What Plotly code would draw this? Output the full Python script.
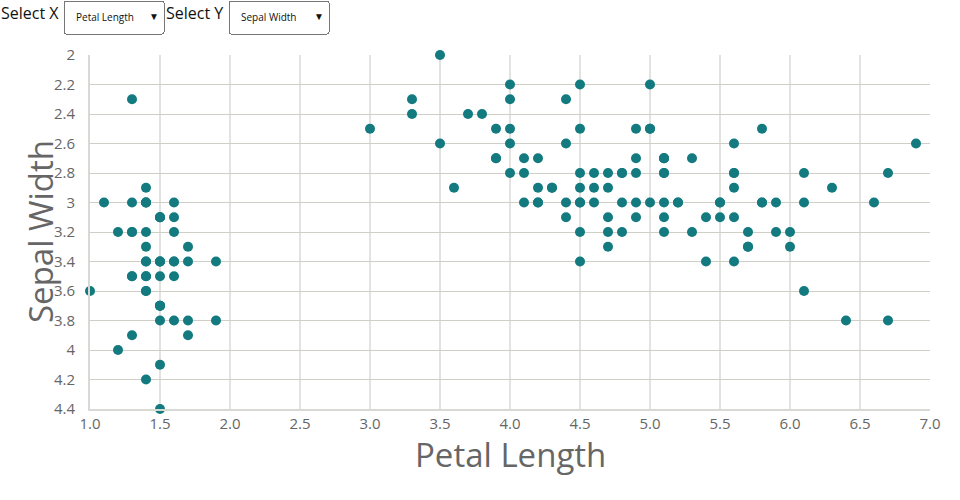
import plotly.graph_objects as go
import math

sepal_length = [5.1,4.9,4.7,4.6,5.0,5.4,4.6,5.0,4.4,4.9,5.4,4.8,4.8,4.3,5.8,5.7,5.4,5.1,5.7,5.1,
                5.4,5.1,4.6,5.1,4.8,5.0,5.0,5.2,5.2,4.7,4.8,5.4,5.2,5.5,4.9,5.0,5.5,4.9,4.4,5.1,
                5.0,4.5,4.4,5.0,5.1,4.8,5.1,4.6,5.3,5.0,
                7.0,6.4,6.9,5.5,6.5,5.7,6.3,4.9,6.6,5.2,5.0,5.9,6.0,6.1,5.6,6.7,5.6,5.8,6.2,5.6,
                5.9,6.1,6.3,6.1,6.4,6.6,6.8,6.7,6.0,5.7,5.5,5.5,5.8,6.0,5.4,6.0,6.7,6.3,5.6,5.5,
                5.5,6.1,5.8,5.0,5.6,5.7,5.7,6.2,5.1,5.7,
                6.3,5.8,7.1,6.3,6.5,7.6,4.9,7.3,6.7,7.2,6.5,6.4,6.8,5.7,5.8,6.4,6.5,7.7,7.7,6.0,
                6.9,5.6,7.7,6.3,6.7,7.2,6.2,6.1,6.4,7.2,7.4,7.9,6.4,6.3,6.1,7.7,6.3,6.4,6.0,6.9,
                6.7,6.9,5.8,6.8,6.7,6.7,6.3,6.5,6.2,5.9]
sepal_width = [3.5,3.0,3.2,3.1,3.6,3.9,3.4,3.4,2.9,3.1,3.7,3.4,3.0,3.0,4.0,4.4,3.9,3.5,3.8,3.8,
               3.4,3.7,3.6,3.3,3.4,3.0,3.4,3.5,3.4,3.2,3.1,3.4,4.1,4.2,3.1,3.2,3.5,3.6,3.0,3.4,
               3.5,2.3,3.2,3.5,3.8,3.0,3.8,3.2,3.7,3.3,
               3.2,3.2,3.1,2.3,2.8,2.8,3.3,2.4,2.9,2.7,2.0,3.0,2.2,2.9,2.9,3.1,3.0,2.7,2.2,2.5,
               3.2,2.8,2.5,2.8,2.9,3.0,2.8,3.0,2.9,2.6,2.4,2.4,2.7,2.7,3.0,3.4,3.1,2.3,3.0,2.5,
               2.6,3.0,2.6,2.3,2.7,3.0,2.9,2.9,2.5,2.8,
               3.3,2.7,3.0,2.9,3.0,3.0,2.5,2.9,2.5,3.6,3.2,2.7,3.0,2.5,2.8,3.2,3.0,3.8,2.6,2.2,
               3.2,2.8,2.8,2.7,3.3,3.2,2.8,3.0,2.8,3.0,2.8,3.8,2.8,2.8,2.6,3.0,3.4,3.1,3.0,3.1,
               3.1,3.1,2.7,3.2,3.3,3.0,2.5,3.0,3.4,3.0]
petal_length = [1.4,1.4,1.3,1.5,1.4,1.7,1.4,1.5,1.4,1.5,1.5,1.6,1.4,1.1,1.2,1.5,1.3,1.4,1.7,1.5,
                1.7,1.5,1.0,1.7,1.9,1.6,1.6,1.5,1.4,1.6,1.6,1.5,1.5,1.4,1.5,1.2,1.3,1.4,1.3,1.5,
                1.3,1.3,1.3,1.6,1.9,1.4,1.6,1.4,1.5,1.4,
                4.7,4.5,4.9,4.0,4.6,4.5,4.7,3.3,4.6,3.9,3.5,4.2,4.0,4.7,3.6,4.4,4.5,4.1,4.5,3.9,
                4.8,4.0,4.9,4.7,4.3,4.4,4.8,5.0,4.5,3.5,3.8,3.7,3.9,5.1,4.5,4.5,4.7,4.4,4.1,4.0,
                4.4,4.6,4.0,3.3,4.2,4.2,4.2,4.3,3.0,4.1,
                6.0,5.1,5.9,5.6,5.8,6.6,4.5,6.3,5.8,6.1,5.1,5.3,5.5,5.0,5.1,5.3,5.5,6.7,6.9,5.0,
                5.7,4.9,6.7,4.9,5.7,6.0,4.8,4.9,5.6,5.8,6.1,6.4,5.6,5.1,5.6,6.1,5.6,5.5,4.8,5.4,
                5.6,5.1,5.1,5.9,5.7,5.2,5.0,5.2,5.4,5.1]
petal_width = [0.2,0.2,0.2,0.2,0.2,0.4,0.3,0.2,0.2,0.1,0.2,0.2,0.1,0.1,0.2,0.4,0.4,0.3,0.3,0.3,
               0.2,0.4,0.2,0.5,0.2,0.2,0.4,0.2,0.2,0.2,0.2,0.4,0.1,0.2,0.1,0.2,0.2,0.1,0.2,0.2,
               0.3,0.3,0.2,0.6,0.4,0.3,0.2,0.2,0.2,0.2,
               1.4,1.5,1.5,1.3,1.5,1.3,1.6,1.0,1.3,1.4,1.0,1.5,1.0,1.4,1.3,1.4,1.5,1.0,1.5,1.1,
               1.8,1.3,1.5,1.2,1.3,1.4,1.4,1.7,1.5,1.0,1.1,1.0,1.2,1.6,1.5,1.6,1.5,1.3,1.3,1.3,
               1.2,1.4,1.2,1.0,1.3,1.2,1.3,1.3,1.1,1.3,
               2.5,1.9,2.1,1.8,2.2,2.1,1.7,1.8,1.8,2.5,2.0,1.9,2.1,2.0,2.4,2.3,1.8,2.2,2.3,1.5,
               2.3,2.0,2.0,1.8,2.1,1.8,1.8,1.8,2.1,1.6,1.9,2.0,2.2,1.5,1.4,2.3,2.4,1.8,1.8,2.1,
               2.4,2.3,1.9,2.3,2.5,2.3,1.9,2.0,2.3,1.8]

column_names = ["Sepal Length", "Sepal Width", "Petal Length", "Petal Width"]
columns = {"Sepal Length": sepal_length, "Sepal Width": sepal_width,
           "Petal Length": petal_length, "Petal Width": petal_width}

x_name = "Petal Length"
y_name = "Sepal Width"

FONT = "Open Sans, Lato, sans-serif"
GREY = "#666"
TEAL = "#137a7f"

L, R, T, B = 90, 30, 55, 91
PW, PH = 960 - L - R, 500 - T - B


def px_x(p):
    return (p - L) / PW


def px_y(p):
    return 1 + (T - p) / PH


def nice_range(vals, step):
    lo = math.floor(min(vals) / step + 1e-9) * step
    hi = math.ceil(max(vals) / step - 1e-9) * step
    return [round(lo, 2), round(hi, 2)]


steps = {"Sepal Length": 0.5, "Sepal Width": 0.2, "Petal Length": 0.5, "Petal Width": 0.2}

fig = go.Figure()
fig.add_trace(go.Scatter(
    x=columns[x_name], y=columns[y_name], mode="markers",
    marker=dict(color=TEAL, size=10, line=dict(width=0)),
    cliponaxis=False, hoverinfo="x+y",
))

# annotation indices: 0 Select X, 1 Select Y, 2 x title, 3 y title
x_buttons = []
y_buttons = []
for name in column_names:
    r = nice_range(columns[name], steps[name])
    x_buttons.append(dict(
        label=name, method="update",
        args=[{"x": [columns[name]]},
              {"annotations[2].text": name, "xaxis.range": r, "xaxis.dtick": steps[name]}],
    ))
    y_buttons.append(dict(
        label=name, method="update",
        args=[{"y": [columns[name]]},
              {"annotations[3].text": name, "yaxis.range": [r[1], r[0]], "yaxis.dtick": steps[name]}],
    ))

xr0 = nice_range(columns[x_name], steps[x_name])
yr0 = nice_range(columns[y_name], steps[y_name])

menu_style = dict(type="dropdown", direction="down", showactive=True,
                  xanchor="left", yanchor="top", y=px_y(0),
                  pad=dict(t=0, b=0, l=0, r=0), bgcolor="white", bordercolor="#767676",
                  borderwidth=1, font=dict(size=10, color="#111", family=FONT))

fig.update_layout(
    width=960, height=500,
    margin=dict(l=L, r=R, t=T, b=B, autoexpand=False),
    paper_bgcolor="white", plot_bgcolor="white",
    font=dict(family=FONT, color=GREY),
    showlegend=False,
    xaxis=dict(
        range=xr0, dtick=0.5, tick0=0, tickformat=".1f",
        showgrid=True, gridcolor="#e2e2de", gridwidth=2,
        showline=True, linecolor="#d8d8d4", linewidth=2,
        zeroline=False, ticks="", ticklen=0,
        tickfont=dict(size=15, color=GREY, family=FONT),
        automargin=False,
    ),
    yaxis=dict(
        range=[yr0[1], yr0[0]], dtick=0.2, tick0=0,
        showgrid=True, gridcolor="#cfcfc8", gridwidth=1,
        showline=True, linecolor="#d8d8d4", linewidth=2,
        zeroline=False, ticks="outside", ticklen=10, tickcolor="rgba(0,0,0,0)",
        tickfont=dict(size=15, color=GREY, family=FONT),
        automargin=False,
    ),
    updatemenus=[
        dict(buttons=x_buttons, active=column_names.index(x_name), x=px_x(63), **menu_style),
        dict(buttons=y_buttons, active=column_names.index(y_name), x=px_x(228), **menu_style),
    ],
    annotations=[
        dict(text="Select X", xref="paper", yref="paper", x=px_x(-1), xanchor="left",
             y=px_y(13), yanchor="middle", showarrow=False,
             font=dict(size=16, color="#111", family=FONT)),
        dict(text="Select Y", xref="paper", yref="paper", x=px_x(164), xanchor="left",
             y=px_y(13), yanchor="middle", showarrow=False,
             font=dict(size=16, color="#111", family=FONT)),
        dict(text=x_name, xref="paper", yref="paper", x=0.5, xanchor="center",
             y=px_y(454), yanchor="middle", showarrow=False,
             font=dict(size=33, color=GREY, family=FONT)),
        dict(text=y_name, xref="paper", yref="paper", x=px_x(40), xanchor="center",
             y=0.5, yanchor="middle", showarrow=False, textangle=-90,
             font=dict(size=33, color=GREY, family=FONT)),
    ],
)

fig.write_html("out.html", config={"displayModeBar": False},
               post_script="document.body.style.margin='0px';")
